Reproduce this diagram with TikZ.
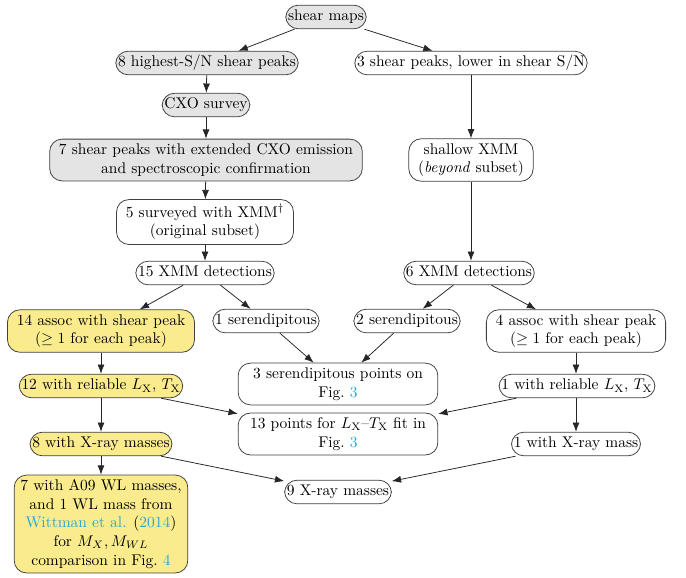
\documentclass[tikz,border=0pt]{standalone}
\usetikzlibrary{arrows.meta}
\definecolor{ylw}{RGB}{250,236,140}
\definecolor{gry}{RGB}{228,228,228}
\definecolor{lnk}{RGB}{40,165,215}
\begin{document}
\begin{tikzpicture}[x=0.0227cm,y=-0.0227cm,
 box/.style={draw=black!75,line width=0.5pt,rounded corners=8pt,inner xsep=1.5pt,inner ysep=3.2pt,align=center,text height=1.6ex,text depth=.45ex},
 mbox/.style={draw=black!75,line width=0.5pt,rounded corners=8pt,inner xsep=6pt,inner ysep=3pt,align=center},
 grayf/.style={fill=gry}, yelf/.style={fill=ylw},
 arr/.style={-{Latex[length=6pt,width=4.5pt]},black!85,line width=0.5pt}]
\useasboundingbox (0,0) rectangle (686,577);
% nodes
\node[box,grayf] (maps) at (326,17) {shear maps};
\node[box,grayf] (high) at (207,63) {8 highest-S/N shear peaks};
\node[box] (low) at (471,63) {3 shear peaks, lower in shear S/N};
\node[box,grayf] (cxo) at (206,105) {CXO survey};
\node[mbox,grayf] (seven) at (206,160) {7 shear peaks with extended CXO emission\\and spectroscopic confirmation};
\node[mbox] (shallow) at (471,160) {shallow XMM\\(\textit{beyond} subset)};
\node[mbox] (five) at (205,222) {5 surveyed with XMM$^\dagger$\\(original subset)};
\node[box] (d15) at (205,273) {15 XMM detections};
\node[box] (d6) at (469,273) {6 XMM detections};
\node[mbox,yelf] (a14) at (101,331) {14 assoc with shear peak\\($\geq 1$ for each peak)};
\node[box] (s1) at (266,321) {1 serendipitous};
\node[box] (s2) at (407,321) {2 serendipitous};
\node[mbox] (a4) at (576,331) {4 assoc with shear peak\\($\geq 1$ for each peak)};
\node[mbox,minimum width=129pt] (sp3) at (338,384) {3 serendipitous points on\\Fig.~\textcolor{lnk}{3}};
\node[box,yelf] (r12) at (101,386) {12 with reliable $L_{\mathrm{X}}$, $T_{\mathrm{X}}$};
\node[box] (r1) at (577,386) {1 with reliable $L_{\mathrm{X}}$, $T_{\mathrm{X}}$};
\node[mbox,minimum width=129pt] (p13) at (338,434) {13 points for $L_{\mathrm{X}}$--$T_{\mathrm{X}}$ fit in\\Fig.~\textcolor{lnk}{3}};
\node[box,yelf] (m8) at (101,444) {8 with X-ray masses};
\node[box] (m1) at (576,444) {1 with X-ray mass};
\node[box] (m9) at (338,492) {9 X-ray masses};
\node[mbox,yelf,inner xsep=4pt] (a09) at (101,524) {7 with A09 WL masses,\\and 1 WL mass from\\\textcolor{lnk}{Wittman et al.} (\textcolor{lnk}{2014})\\for $M_X, M_{WL}$\\comparison in Fig.~\textcolor{lnk}{4}};
% connectors
\draw[arr] (maps) -- (high);
\draw[arr] (maps) -- (low);
\draw[arr] (high) -- (cxo);
\draw[arr] (cxo) -- (seven);
\draw[arr] (seven) -- (five);
\draw[arr] (five) -- (d15);
\draw[arr] (low) -- (shallow);
\draw[arr] (shallow) -- (shallow |- d6.north);
\draw[arr] (d15) -- (a14);
\draw[arr] (d15) -- (s1);
\draw[arr] (d6) -- (s2);
\draw[arr] (d6) -- (a4);
\draw[arr] (s1) -- (sp3);
\draw[arr] (s2) -- (sp3);
\draw[arr] (a14) -- (r12);
\draw[arr] (a4) -- (a4 |- r1.north);
\draw[arr] (r12) -- (p13);
\draw[arr] (r1) -- (p13);
\draw[arr] (r12) -- (m8);
\draw[arr] (r1.south -| m1) -- (m1);
\draw[arr] (m8) -- (m9);
\draw[arr] (m1) -- (m9);
\draw[arr] (m8) -- (a09);
\end{tikzpicture}
\end{document}
